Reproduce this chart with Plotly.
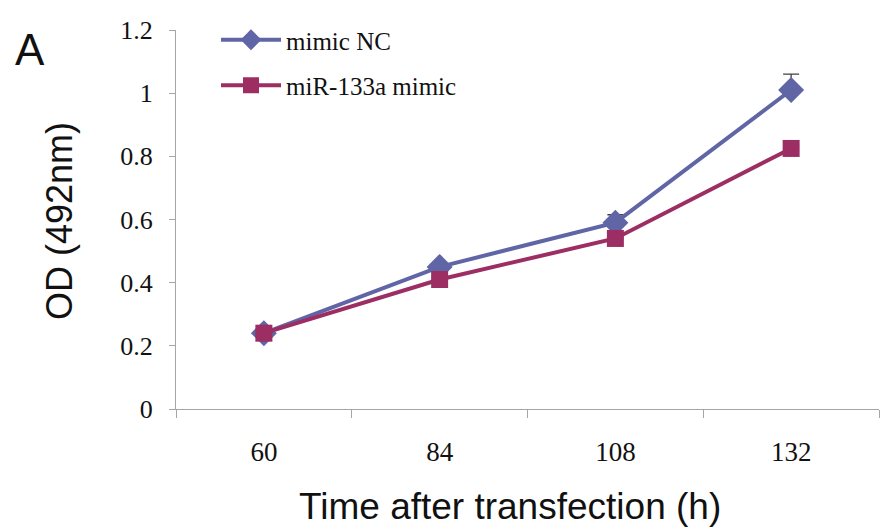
import plotly.graph_objects as go

# Time points (h) and OD readings
times = ["60", "84", "108", "132"]
nc_od = [0.24, 0.45, 0.59, 1.01]
nc_err = [0.005, 0.01, 0.025, 0.05]
mir_od = [0.24, 0.41, 0.54, 0.825]
mir_err = [0.005, 0.008, 0.01, 0.01]

y_ticks = [0, 0.2, 0.4, 0.6, 0.8, 1.0, 1.2]
y_tick_text = ["0", "0.2", "0.4", "0.6", "0.8", "1", "1.2"]

NC_COLOR = "#6065A6"
MIR_COLOR = "#9C2E63"
AXIS_COLOR = "#A6A6A6"
TEXT_COLOR = "#111111"

# plot area in pixels: x 176..879, y 30..409
W, H = 881, 530
L, R, T, B = 176, 2, 30, 121
pw, ph = W - L - R, H - T - B


def px_x(x):
    return (x - L) / pw


def px_y(y):
    return (H - B - y) / ph


fig = go.Figure()

fig.add_trace(go.Scatter(
    x=times, y=nc_od, name="mimic NC", mode="lines+markers",
    legendgroup="nc",
    line=dict(color=NC_COLOR, width=4),
    marker=dict(symbol="diamond", size=20, color=NC_COLOR),
    error_y=dict(type="data", array=nc_err, arrayminus=[0] * 4,
                 color="#404040", thickness=1.3, width=8),
))
fig.add_trace(go.Scatter(
    x=times, y=mir_od, name="miR-133a mimic", mode="lines+markers",
    legendgroup="mir",
    line=dict(color=MIR_COLOR, width=4),
    marker=dict(symbol="square", size=17, color=MIR_COLOR),
    error_y=dict(type="data", array=mir_err, arrayminus=[0] * 4,
                 color="#404040", thickness=1.3, width=8),
))

fig.update_layout(
    width=W, height=H,
    margin=dict(l=L, r=R, t=T, b=B),
    paper_bgcolor="white", plot_bgcolor="white",
    showlegend=True,
    legend=dict(
        x=px_x(216), y=px_y(17), xanchor="left", yanchor="top",
        font=dict(family="Liberation Serif", size=25, color=TEXT_COLOR),
        tracegroupgap=10, itemwidth=60,
        bgcolor="rgba(0,0,0,0)",
    ),
    font=dict(family="Liberation Serif", size=26, color=TEXT_COLOR),
)

# panel label and axis titles
fig.add_annotation(
    text="A", xref="paper", yref="paper",
    x=px_x(30), y=px_y(50), xanchor="center", yanchor="middle",
    showarrow=False,
    font=dict(family="Liberation Sans", size=44, color=TEXT_COLOR),
)
fig.add_annotation(
    text="OD (492nm)", xref="paper", yref="paper",
    x=px_x(59), y=px_y(221), xanchor="center", yanchor="middle",
    textangle=-90, showarrow=False,
    font=dict(family="Liberation Sans", size=36, color=TEXT_COLOR),
)
fig.add_annotation(
    text="Time after transfection (h)", xref="paper", yref="paper",
    x=px_x(510), y=px_y(507), xanchor="center", yanchor="middle",
    showarrow=False,
    font=dict(family="Liberation Sans", size=37, color=TEXT_COLOR),
)

fig.update_xaxes(
    type="category", range=[-0.5, 3.5],
    showline=True, linecolor=AXIS_COLOR, linewidth=1.3,
    ticks="outside", tickson="boundaries", ticklen=8, tickcolor=AXIS_COLOR,
    tickfont=dict(family="Liberation Serif", size=27, color=TEXT_COLOR),
    ticklabelstandoff=18,
    showgrid=False, zeroline=False,
)
fig.update_yaxes(
    range=[0, 1.2], tickvals=y_ticks, ticktext=y_tick_text,
    showline=True, linecolor=AXIS_COLOR, linewidth=1.3,
    ticks="outside", ticklen=6, tickcolor=AXIS_COLOR,
    tickfont=dict(family="Liberation Serif", size=26, color=TEXT_COLOR),
    ticklabelstandoff=11,
    showgrid=False, zeroline=False,
)

fig.write_html("out.html")
